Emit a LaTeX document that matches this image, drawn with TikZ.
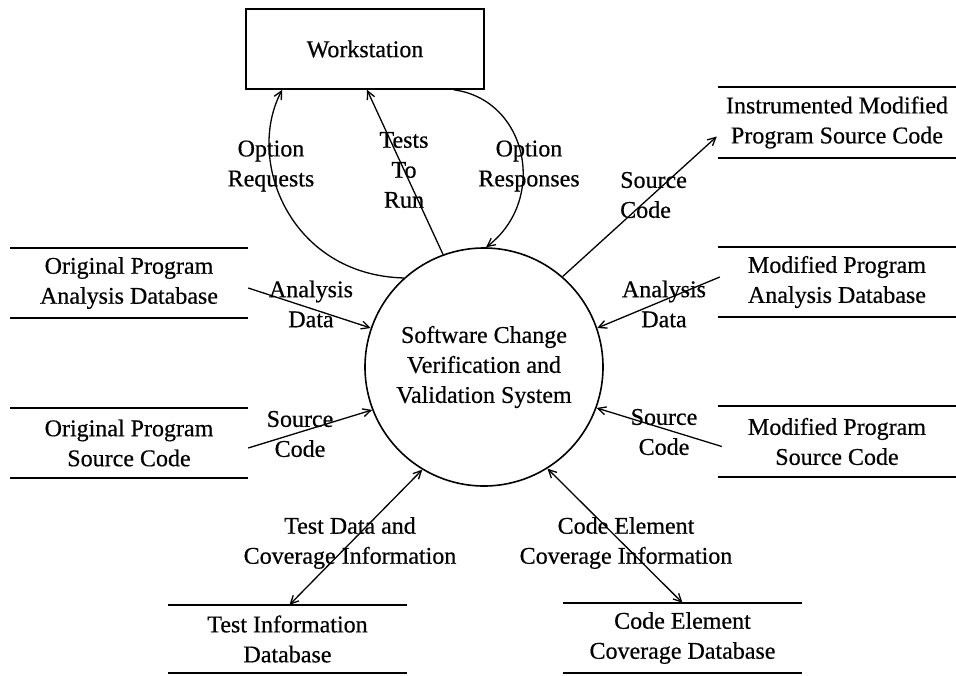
\documentclass[tikz,border=0pt]{standalone}
\usepackage{fontspec}
\setmainfont{Liberation Serif}
\newfontfamily\dfdfont{Liberation Serif}[FakeBold=0.5]
\usetikzlibrary{arrows.meta,calc}
\begin{document}
\begin{tikzpicture}[x=1pt,y=-1pt,
  lbl/.style={font=\dfdfont\fontsize{24}{30}\selectfont, align=center, inner sep=0pt},
  store/.style={lbl, minimum height=70pt},
  storeline/.style={line width=1.8pt},
  flow/.style={line width=1.3pt, -{Straight Barb[length=8pt,width=8pt]}},
  flowtwo/.style={line width=1.3pt, {Straight Barb[length=8pt,width=8pt]}-{Straight Barb[length=8pt,width=8pt]}}]
\useasboundingbox (0,0) rectangle (956,675);

% process and terminator
\node[circle, draw, line width=1.6pt, minimum size=238pt, lbl] (sys) at (484,367)
  {Software Change\\Verification and\\Validation System};
\node[rectangle, draw, line width=1.6pt, minimum width=238pt, minimum height=80pt, lbl] (ws) at (365,49) {Workstation};

% data stores
\node[store, minimum width=238pt] (impsc) at (837,122.5) {Instrumented Modified\\Program Source Code};
\node[store, minimum width=238pt] (mpad) at (837,282) {Modified Program\\Analysis Database};
\node[store, minimum width=238pt] (mpsc) at (837,441.5) {Modified Program\\Source Code};
\node[store, minimum width=238pt] (opad) at (129,283) {Original Program\\Analysis Database};
\node[store, minimum width=238pt] (opsc) at (129,443) {Original Program\\Source Code};
\node[store, minimum width=239pt, minimum height=68pt] (tid) at (287.5,639) {Test Information\\Database};
\node[store, minimum width=239pt] (cecd) at (682.5,638) {Code Element\\Coverage Database};
\foreach \n in {impsc,mpad,mpsc,opad,opsc,tid,cecd}
  \draw[storeline] (\n.north west) -- (\n.north east) (\n.south west) -- (\n.south east);

% flows
\draw[flow] (sys.132) .. controls (290,275) and (245,160) .. ($(ws.south west)+(37,0)$);
\draw[flow] (sys.110) -- ($(ws.south)+(2,0)$);
\draw[flow] ($(ws.south east)+(-31,0)$) .. controls (528,100) and (548,200) .. (sys.89);
\draw[flow] (sys.49) -- ($(impsc.west)+(-1,14)$);
\draw[flow] ($(mpad.west)+(2,-5)$) -- (sys.19.5);
\draw[flow] ($(mpsc.west)+(4,5)$) -- (sys.-20.7);
\draw[flow] ($(opad.east)+(0,5)$) -- (sys.161);
\draw[flow] ($(opsc.east)+(0,5)$) -- (sys.201);
\draw[flowtwo] ($(tid.north)+(2,0)$) -- (sys.239);
\draw[flowtwo] (sys.302) -- (cecd.north);

% flow labels
\node[lbl] (l1) at (271,166) {Option\\Requests};
\node[lbl] (l2) at (404,170) {Tests\\To\\Run};
\node[lbl] (l3) at (529,166) {Option\\Responses};
\node[lbl, align=left, anchor=west] (l4) at (620,195) {Source\\Code};
\node[lbl] (l5) at (664,304) {Analysis\\Data};
\node[lbl] (l6) at (664,432) {Source\\Code};
\node[lbl] (l7) at (311,304) {Analysis\\Data};
\node[lbl] (l8) at (300,434) {Source\\Code};
\node[lbl] (l9) at (350,543) {Test Data and\\Coverage Information};
\node[lbl] (l10) at (626,543) {Code Element\\Coverage Information};
\end{tikzpicture}
\end{document}
